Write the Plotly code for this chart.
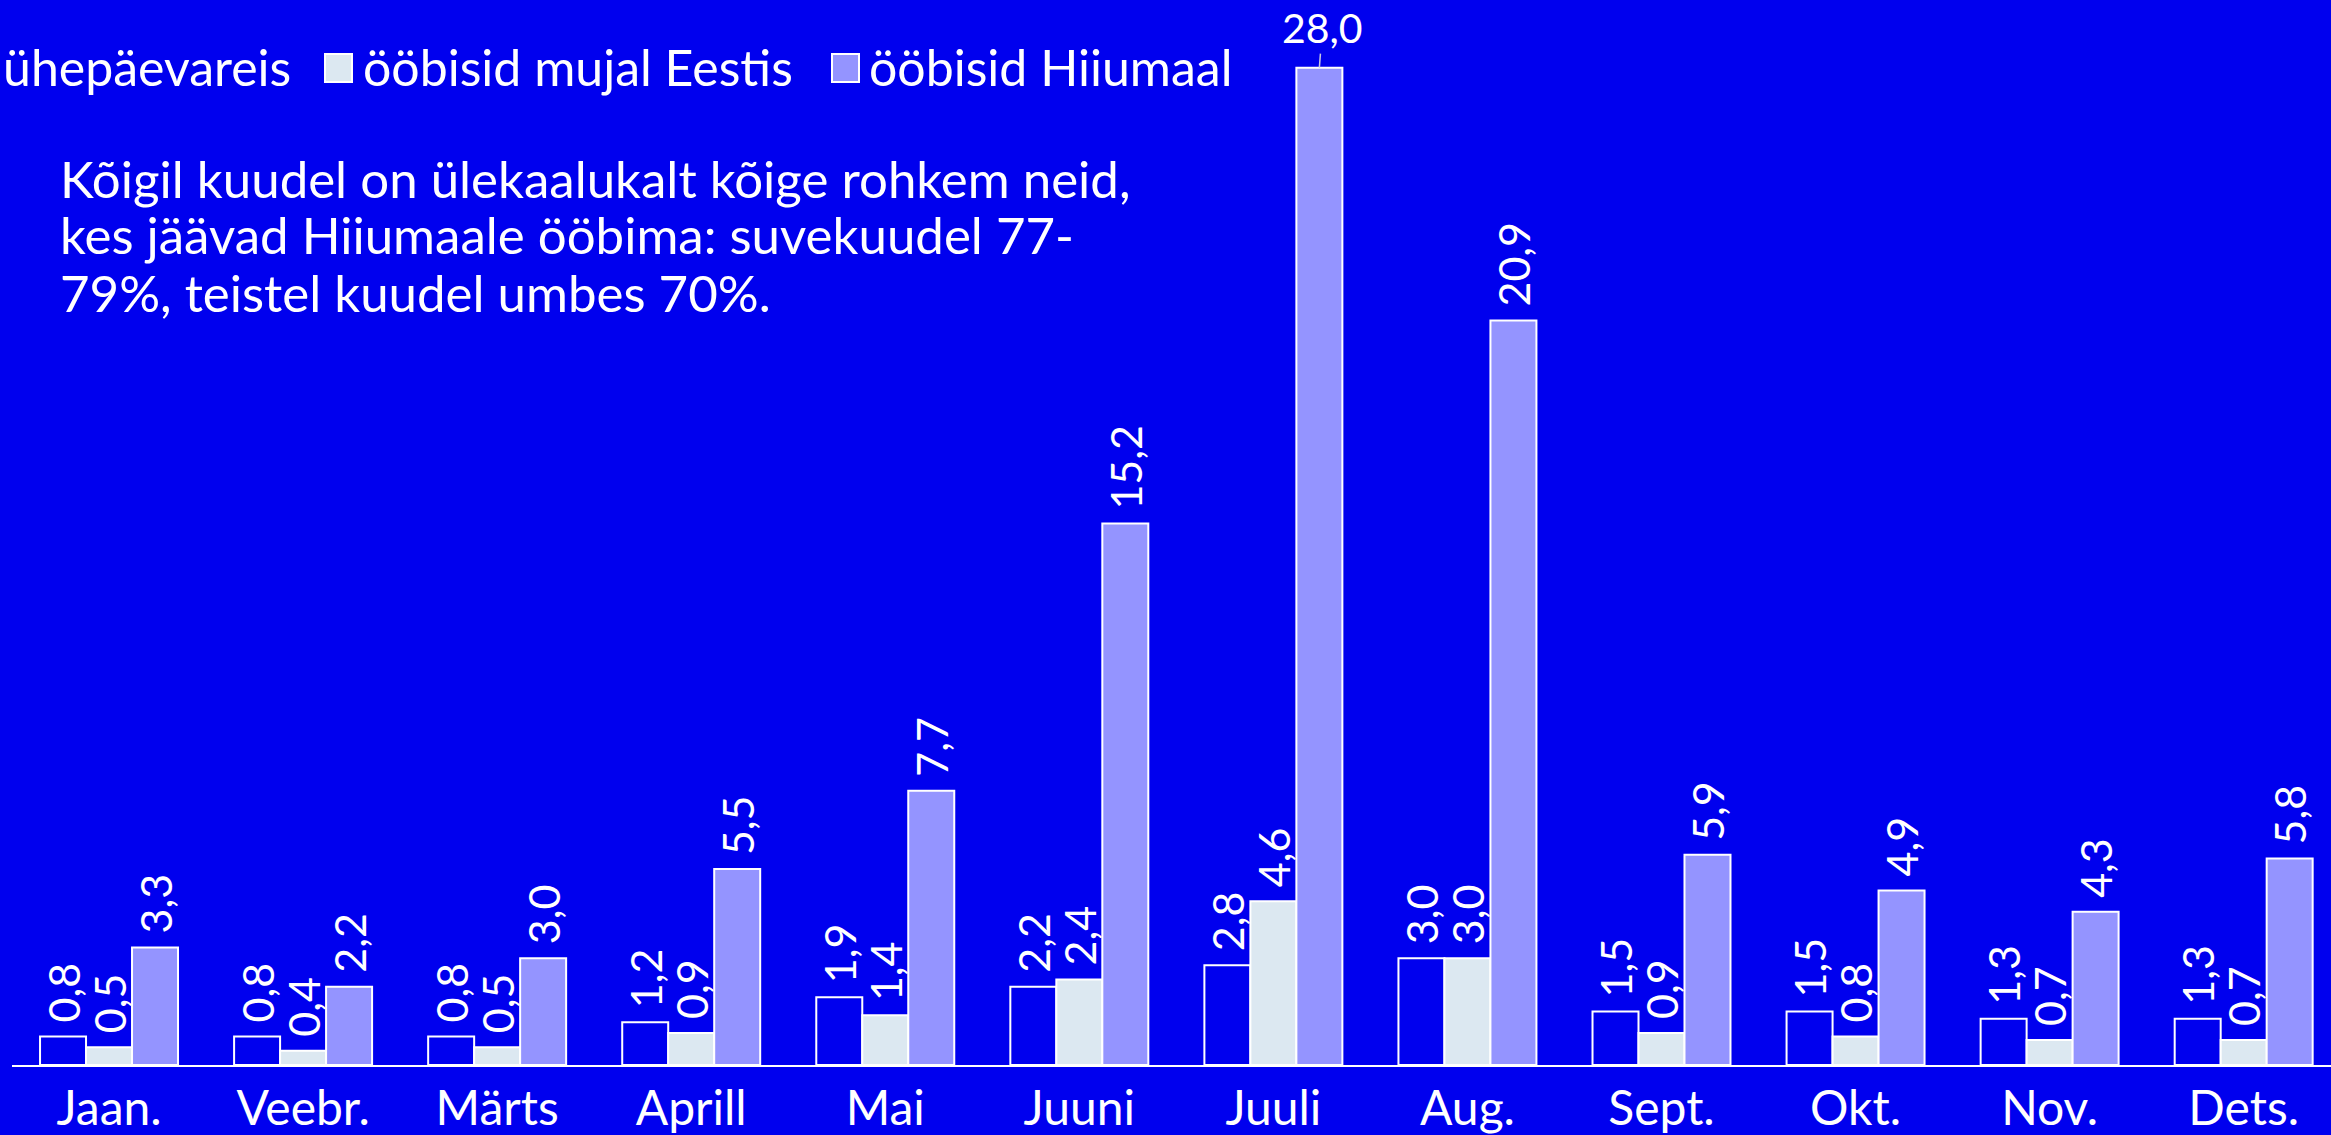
import plotly.graph_objects as go

months = ["Jaan.", "Veebr.", "Märts", "Aprill", "Mai", "Juuni",
          "Juuli", "Aug.", "Sept.", "Okt.", "Nov.", "Dets."]
series_names = ["ühepäevareis", "ööbisid mujal Eestis", "ööbisid Hiiumaal"]
uhepaevareis = [0.8, 0.8, 0.8, 1.2, 1.9, 2.2, 2.8, 3.0, 1.5, 1.5, 1.3, 1.3]
mujal_eestis = [0.5, 0.4, 0.5, 0.9, 1.4, 2.4, 4.6, 3.0, 0.9, 0.8, 0.7, 0.7]
hiiumaal = [3.3, 2.2, 3.0, 5.5, 7.7, 15.2, 28.0, 20.9, 5.9, 4.9, 4.3, 5.8]
note_lines = ["Kõigil kuudel on ülekaalukalt kõige rohkem neid,",
              "kes jäävad Hiiumaale ööbima: suvekuudel 77-",
              "79%, teistel kuudel umbes 70%."]

W, H = 2331, 1135
ML, MR, MT, MB = 12, 0, 0, 70
PW, PH = W - ML - MR, H - MT - MB
BG = "#0000EE"
colors = [BG, "#DCE8F1", "#9494FF"]
FONT = "Lato"
LABEL_SIZE = 43


def fmt(v):
    return f"{v:.1f}".replace(".", ",")


def px_x(x):
    return (x - ML) / PW


def px_y(y):
    return 1 - (y - MT) / PH


fig = go.Figure()
all_series = [uhepaevareis, mujal_eestis, hiiumaal]
max_val = max(hiiumaal)
for name, vals, col in zip(series_names, all_series, colors):
    texts = ["\u00a0" + fmt(v) if v != max_val else "" for v in vals]
    fig.add_trace(go.Bar(
        x=months, y=vals, name=name,
        marker=dict(color=col, line=dict(color="white", width=2)),
        text=texts, textposition="outside", textangle=-90,
        constraintext="none",
        textfont=dict(family=FONT, size=LABEL_SIZE, color="white"),
        cliponaxis=False, showlegend=False,
    ))

# label for the tallest bar (horizontal, with leader line)
imax = hiiumaal.index(max_val)
fig.add_annotation(
    x=months[imax], y=max_val, xref="x", yref="y", xshift=46,
    text=fmt(max_val), showarrow=True, arrowhead=0, arrowwidth=1.5,
    arrowcolor="#C8C8E0", ax=3, ay=-40, standoff=0,
    font=dict(family=FONT, size=41, color="white"),
)

# custom legend
legend_items = [
    (series_names[0], colors[0], -40, "right", 293),
    (series_names[1], colors[1], 325, "left", 361),
    (series_names[2], colors[2], 832, "left", 867),
]
for name, col, sx, anchor, tx in legend_items:
    fig.add_shape(type="rect", xref="paper", yref="paper",
                  x0=px_x(sx), x1=px_x(sx + 27), y0=px_y(82), y1=px_y(54),
                  fillcolor=col, line=dict(color="white", width=2))
    fig.add_annotation(xref="paper", yref="paper", x=px_x(tx), y=px_y(67),
                       xanchor=anchor, yanchor="middle", showarrow=False,
                       text=name, font=dict(family=FONT, size=50, color="white"))

for i, line in enumerate(note_lines):
    fig.add_annotation(
        xref="paper", yref="paper", x=px_x(58), y=px_y(178 + 57 * i),
        xanchor="left", yanchor="middle", align="left", showarrow=False,
        text=line, font=dict(family=FONT, size=51, color="white"),
    )

fig.update_layout(
    width=W, height=H,
    margin=dict(l=ML, r=MR, t=MT, b=MB, autoexpand=False),
    paper_bgcolor=BG, plot_bgcolor=BG,
    barmode="group", bargap=0.289, bargroupgap=0,
    font=dict(family=FONT, color="white"),
    showlegend=False,
)
fig.update_xaxes(
    range=[-0.5, 11.45],
    showline=True, linecolor="white", linewidth=2, showgrid=False,
    ticks="", tickfont=dict(family=FONT, size=48, color="white"),
)
fig.update_yaxes(visible=False, range=[0, 29.9], showgrid=False, zeroline=False)

fig.write_html("out.html",
               config={"displayModeBar": False},
               post_script="document.body.style.margin='0';document.body.style.padding='0';")
